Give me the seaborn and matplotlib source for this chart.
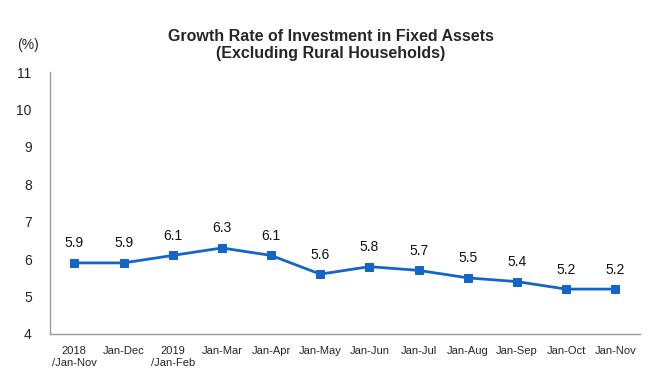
import matplotlib
matplotlib.use("Agg")
import matplotlib.pyplot as plt
import seaborn as sns
import pandas as pd
from matplotlib.ticker import FixedLocator

categories = ["2018\n/Jan-Nov", "Jan-Dec", "2019\n/Jan-Feb", "Jan-Mar", "Jan-Apr", "Jan-May",
              "Jan-Jun", "Jan-Jul", "Jan-Aug", "Jan-Sep", "Jan-Oct", "Jan-Nov"]
values = [5.9, 5.9, 6.1, 6.3, 6.1, 5.6, 5.8, 5.7, 5.5, 5.4, 5.2, 5.2]
y_ticks = [4, 5, 6, 7, 8, 9, 10, 11]
title = "Growth Rate of Investment in Fixed Assets\n(Excluding Rural Households)"

sns.set_style("white")
plt.rcParams["font.family"] = ["Liberation Sans", "DejaVu Sans"]

df = pd.DataFrame({"pos": range(len(categories)), "value": values})

fig = plt.figure(figsize=(6.55, 3.92), dpi=100)
ax = fig.add_axes([0.076, 0.148, 0.901, 0.668])

color = "#1565C8"
sns.lineplot(data=df, x="pos", y="value", ax=ax, color=color, linewidth=2,
             marker="s", markersize=6, markeredgecolor=color, markerfacecolor=color)

for i, v in enumerate(values):
    ax.annotate(f"{v:.1f}", (i, v), xytext=(0, 9), textcoords="offset points",
                ha="center", va="bottom", fontsize=10, color="#111111")

ax.set_xlim(-0.5, len(categories) - 0.5)
ax.set_ylim(4, 11)
ax.set_yticks(y_ticks)
ax.set_yticklabels([str(t) for t in y_ticks], fontsize=10)
ax.set_xticks(range(len(categories)))
ax.set_xticklabels(categories, fontsize=8)
ax.xaxis.set_minor_locator(FixedLocator([i + 0.5 for i in range(len(categories))]))
ax.tick_params(axis="x", which="major", length=0, pad=9)
ax.tick_params(axis="x", which="minor", direction="in", length=4, color="#999999", width=0.8)
ax.tick_params(axis="y", direction="in", length=4, color="#999999", width=0.8, pad=13)
ax.set_xlabel("")
ax.set_ylabel("")

for s in ["top", "right"]:
    ax.spines[s].set_visible(False)
for s in ["left", "bottom"]:
    ax.spines[s].set_color("#999999")
    ax.spines[s].set_linewidth(1)

fig.text(0.505, 0.885, title, ha="center", va="center", fontsize=11.5, fontweight="bold",
         linespacing=1.2)
fig.text(0.043, 0.885, "(%)", ha="center", va="center", fontsize=10)

fig.savefig("out.png", dpi=100)
